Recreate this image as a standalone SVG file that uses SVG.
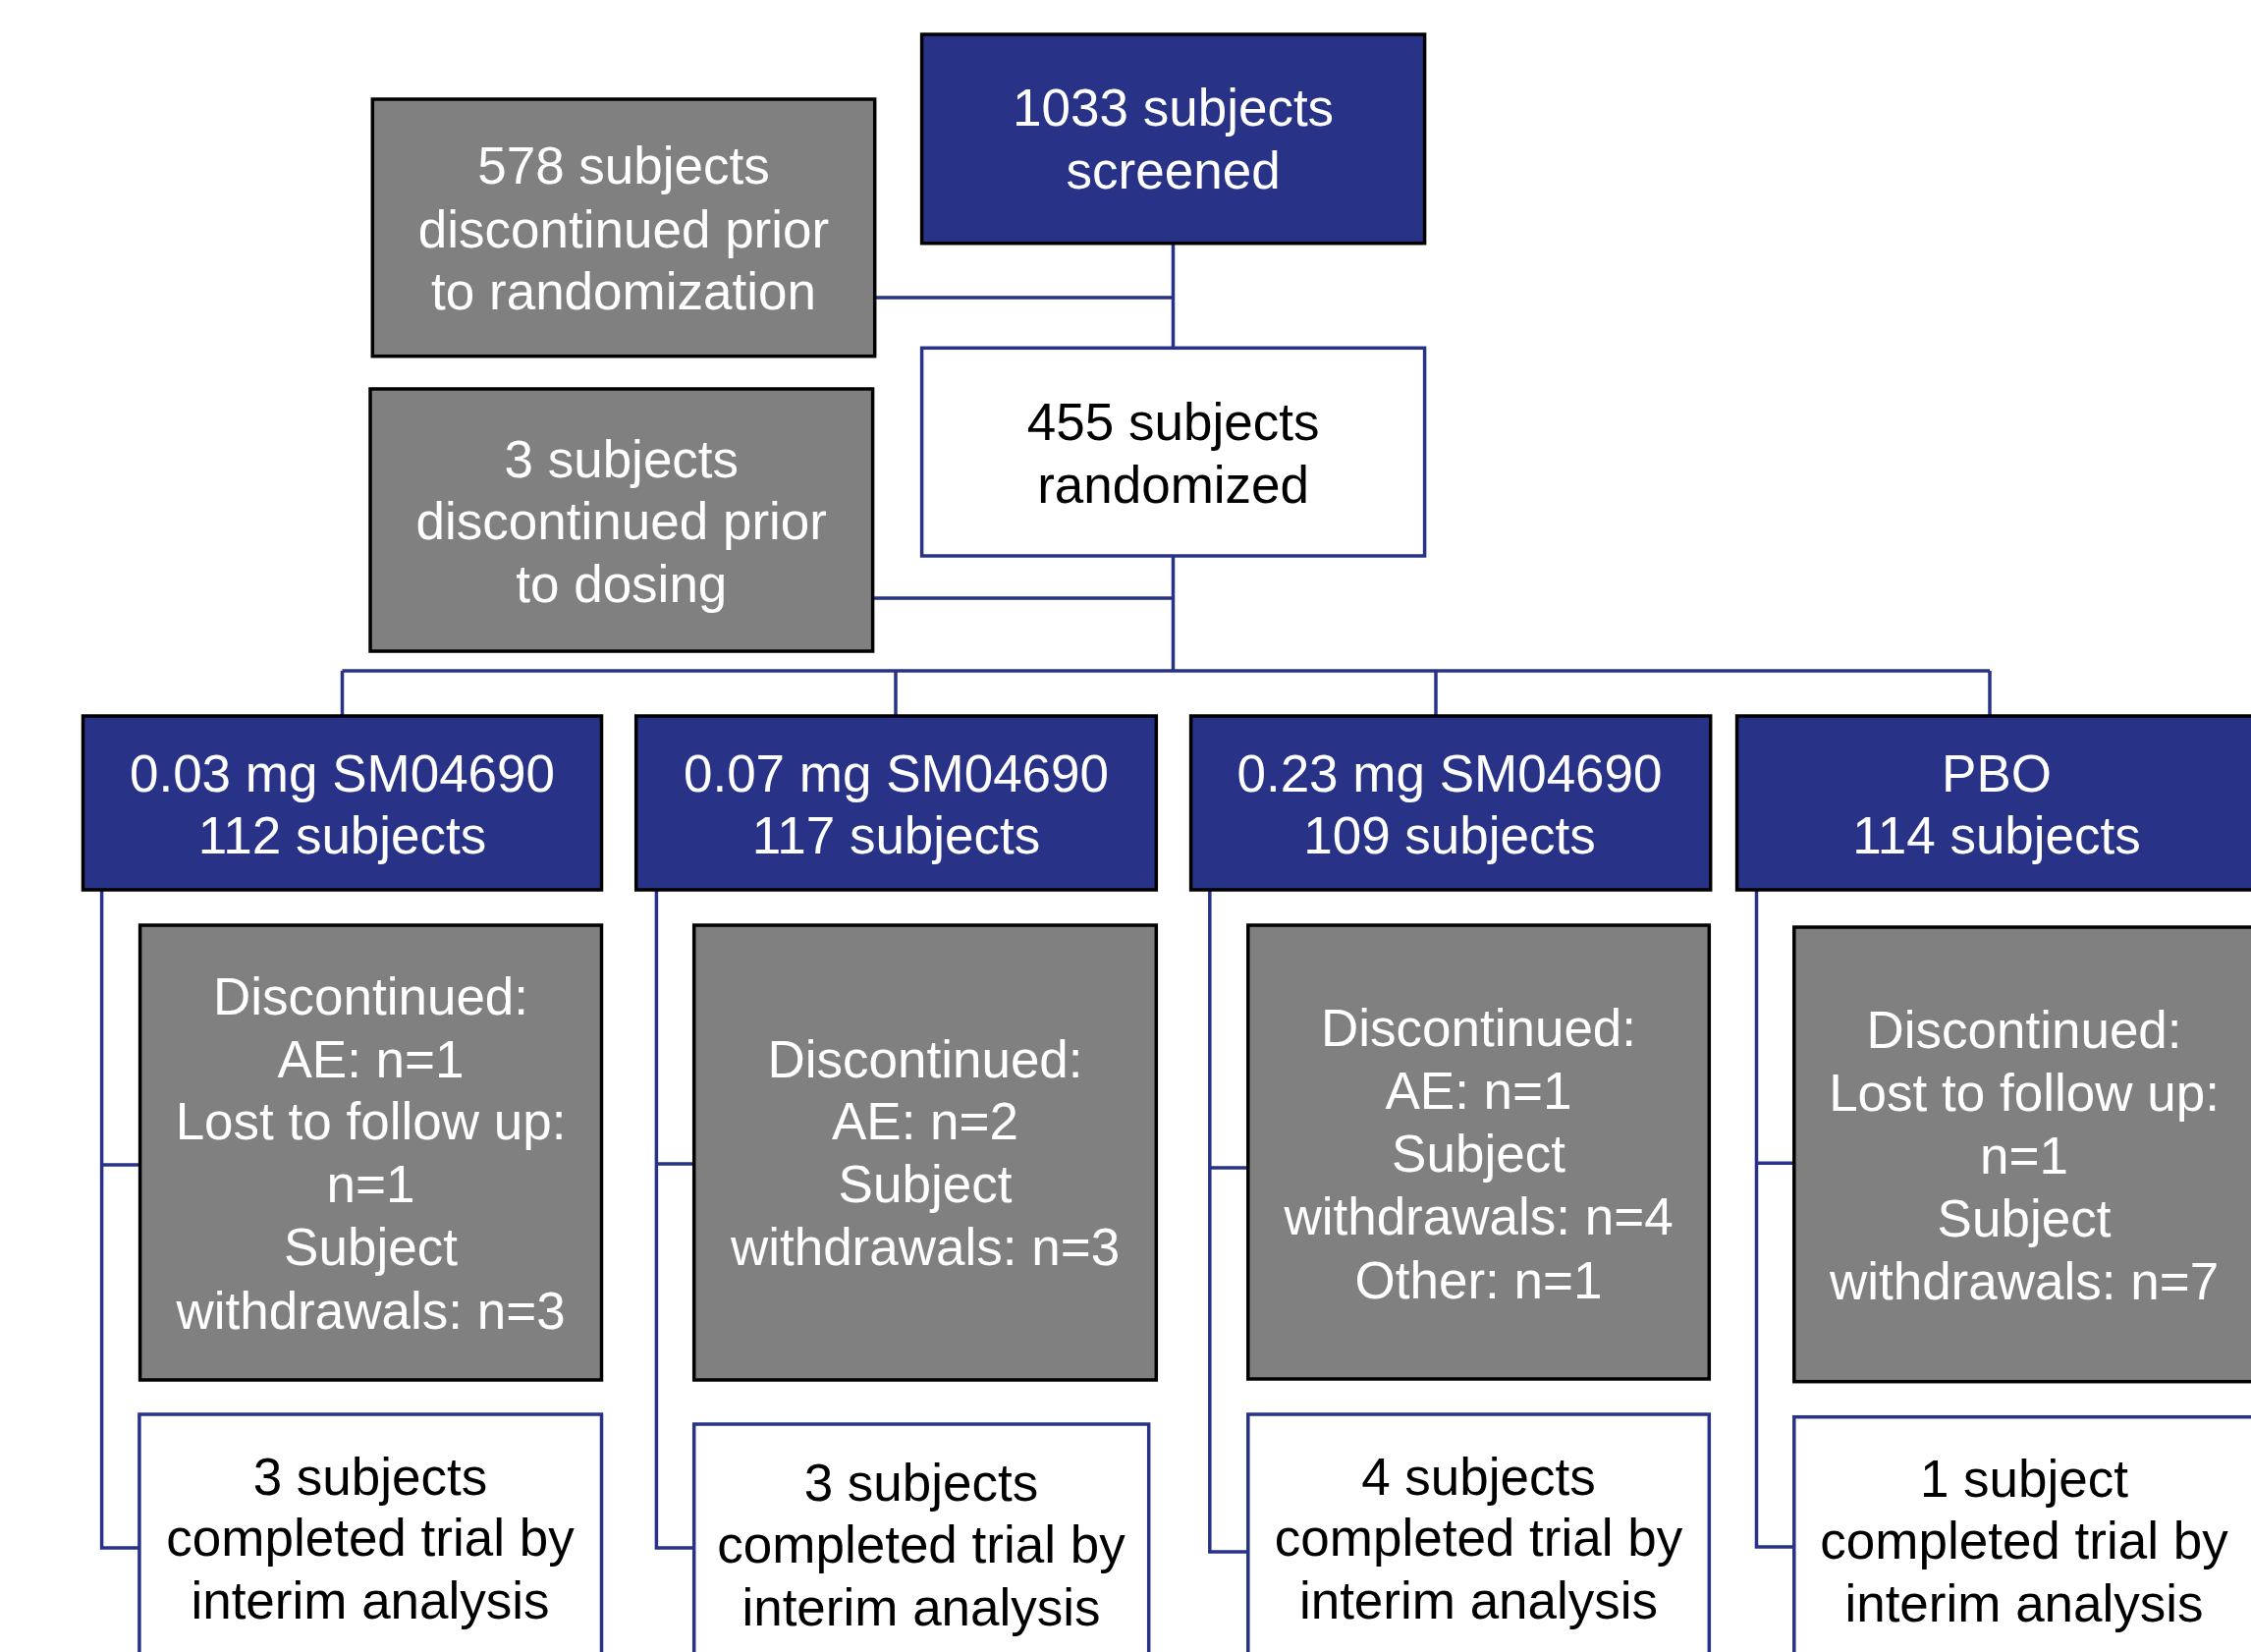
<svg xmlns="http://www.w3.org/2000/svg" width="2292" height="1682" viewBox="0 0 2292 1682">
<style>
.blue{fill:#283387;stroke:#000;stroke-width:3.5}
.gray{fill:#808080;stroke:#000;stroke-width:3.5}
.white{fill:#fff;stroke:#283387;stroke-width:3.5}
text{font-family:"Liberation Sans",Arial,sans-serif;font-size:53px;text-anchor:middle}
.wt{fill:#fff}
.bt{fill:#000}
.conn{fill:none;stroke:#283387;stroke-width:3.5}
</style>
<rect width="2292" height="1682" fill="#fff"/>
<g id="connectors" class="conn">
<path d="M1194.5 248V354"/>
<path d="M891 303H1194.5"/>
<path d="M1194.5 566V683"/>
<path d="M889 609H1194.5"/>
<path d="M348.5 683H2026"/>
<path d="M348.5 683V729M912 683V729M1462 683V729M2026 683V729"/>
<path d="M103.6 906V1576H142M103.6 1186H142.6"/>
<path d="M668.4 906V1576H706.7M668.4 1185H706.7"/>
<path d="M1231.8 906V1580H1270.8M1231.8 1189H1270.8"/>
<path d="M1788.5 906V1575H1826.8M1788.5 1184.3H1826.8"/>
</g>
<g id="screened">
<rect class="blue" x="938.6" y="35" width="512" height="212.7"/>
<text class="wt" x="1194.6" y="128.3">1033 subjects</text>
<text class="wt" x="1194.6" y="191.7">screened</text>
</g>
<g id="disc-prior-rand">
<rect class="gray" x="379.3" y="101" width="511.4" height="261.7"/>
<text class="wt" x="635" y="186.7">578 subjects</text>
<text class="wt" x="635" y="251.7">discontinued prior</text>
<text class="wt" x="635" y="315">to randomization</text>
</g>
<g id="randomized">
<rect class="white" x="938.6" y="354.3" width="512" height="211.7"/>
<text class="bt" x="1194.6" y="448.3">455 subjects</text>
<text class="bt" x="1194.6" y="511.7">randomized</text>
</g>
<g id="disc-prior-dosing">
<rect class="gray" x="377" y="396" width="511.6" height="267"/>
<text class="wt" x="632.8" y="486">3 subjects</text>
<text class="wt" x="632.8" y="549.3">discontinued prior</text>
<text class="wt" x="632.8" y="613.3">to dosing</text>
</g>
<g id="arm1">
<rect class="blue" x="84.5" y="729" width="528" height="177"/>
<text class="wt" x="348.5" y="806">0.03 mg SM04690</text>
<text class="wt" x="348.5" y="869.3">112 subjects</text>
</g>
<g id="arm2">
<rect class="blue" x="647.7" y="729" width="529.6" height="177"/>
<text class="wt" x="912.5" y="806">0.07 mg SM04690</text>
<text class="wt" x="912.5" y="869.3">117 subjects</text>
</g>
<g id="arm3">
<rect class="blue" x="1212.6" y="729" width="529.1" height="177"/>
<text class="wt" x="1476" y="806">0.23 mg SM04690</text>
<text class="wt" x="1476" y="869.3">109 subjects</text>
</g>
<g id="arm4">
<rect class="blue" x="1768.6" y="729" width="528.4" height="177"/>
<text class="wt" x="2033" y="806">PBO</text>
<text class="wt" x="2033" y="869.3">114 subjects</text>
</g>
<g id="disc1">
<rect class="gray" x="142.6" y="942" width="469.9" height="463"/>
<text class="wt" x="377.5" y="1033">Discontinued:</text>
<text class="wt" x="377.5" y="1097">AE: n=1</text>
<text class="wt" x="377.5" y="1160">Lost to follow up:</text>
<text class="wt" x="377.5" y="1224">n=1</text>
<text class="wt" x="377.5" y="1288">Subject</text>
<text class="wt" x="377.5" y="1353">withdrawals: n=3</text>
</g>
<g id="disc2">
<rect class="gray" x="706.7" y="942" width="470.6" height="463"/>
<text class="wt" x="942" y="1097">Discontinued:</text>
<text class="wt" x="942" y="1160">AE: n=2</text>
<text class="wt" x="942" y="1224">Subject</text>
<text class="wt" x="942" y="1288">withdrawals: n=3</text>
</g>
<g id="disc3">
<rect class="gray" x="1270.8" y="942" width="469.5" height="462"/>
<text class="wt" x="1505.5" y="1065">Discontinued:</text>
<text class="wt" x="1505.5" y="1129">AE: n=1</text>
<text class="wt" x="1505.5" y="1193">Subject</text>
<text class="wt" x="1505.5" y="1257">withdrawals: n=4</text>
<text class="wt" x="1505.5" y="1322">Other: n=1</text>
</g>
<g id="disc4">
<rect class="gray" x="1826.8" y="944" width="470.2" height="462.7"/>
<text class="wt" x="2061" y="1067">Discontinued:</text>
<text class="wt" x="2061" y="1131">Lost to follow up:</text>
<text class="wt" x="2061" y="1195">n=1</text>
<text class="wt" x="2061" y="1259">Subject</text>
<text class="wt" x="2061" y="1323">withdrawals: n=7</text>
</g>
<g id="comp1">
<rect class="white" x="141.9" y="1440" width="470.6" height="260"/>
<text class="bt" x="377" y="1521.7">3 subjects</text>
<text class="bt" x="377" y="1584">completed trial by</text>
<text class="bt" x="377" y="1648">interim analysis</text>
</g>
<g id="comp2">
<rect class="white" x="706.7" y="1450" width="463" height="260"/>
<text class="bt" x="938" y="1528">3 subjects</text>
<text class="bt" x="938" y="1591">completed trial by</text>
<text class="bt" x="938" y="1655">interim analysis</text>
</g>
<g id="comp3">
<rect class="white" x="1270.8" y="1440" width="469.5" height="260"/>
<text class="bt" x="1505.5" y="1522">4 subjects</text>
<text class="bt" x="1505.5" y="1584">completed trial by</text>
<text class="bt" x="1505.5" y="1648">interim analysis</text>
</g>
<g id="comp4">
<rect class="white" x="1826.8" y="1442.7" width="470.2" height="260"/>
<text class="bt" x="2061" y="1524">1 subject</text>
<text class="bt" x="2061" y="1587">completed trial by</text>
<text class="bt" x="2061" y="1651">interim analysis</text>
</g>
</svg>
